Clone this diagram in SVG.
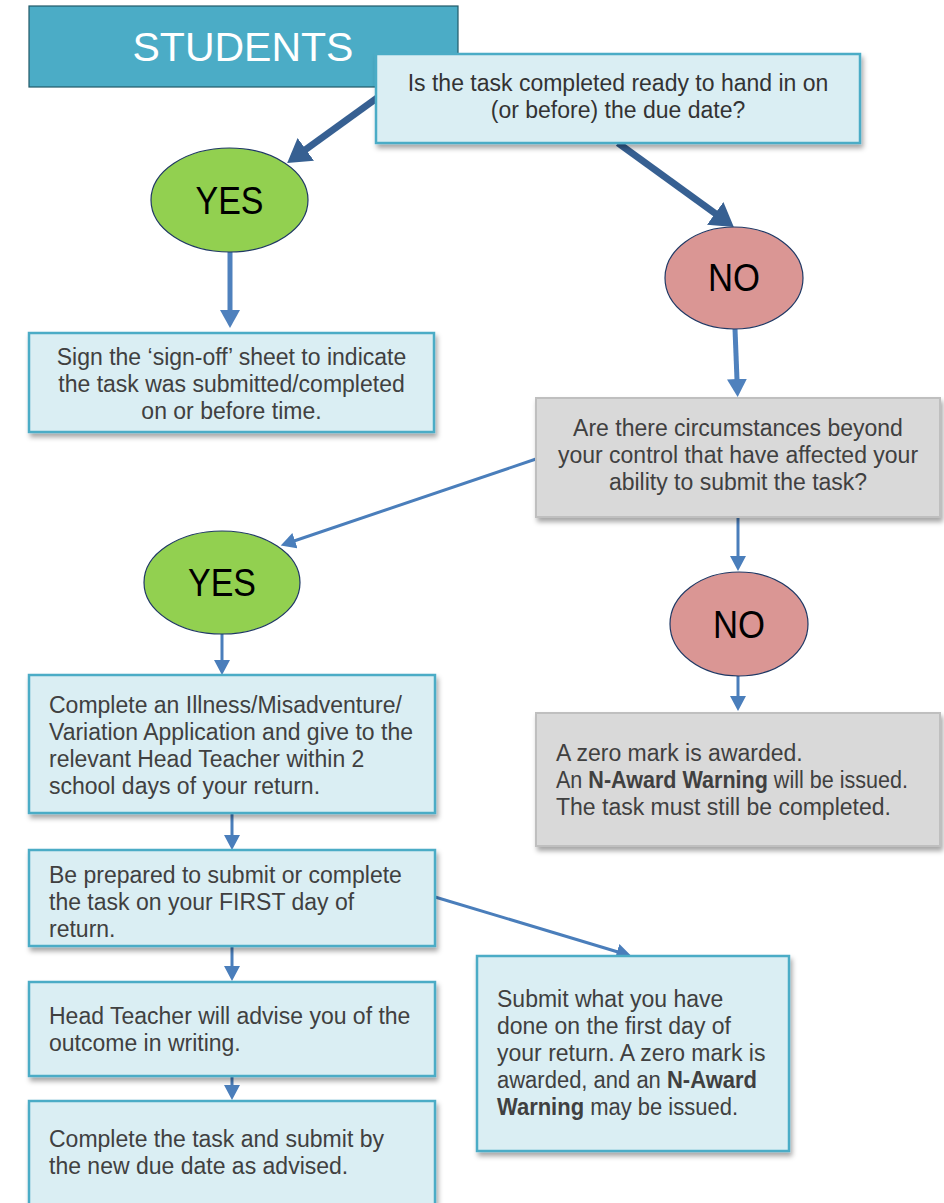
<svg xmlns="http://www.w3.org/2000/svg" width="944" height="1203" viewBox="0 0 944 1203">
<defs>
<style>
.bg{fill:#ffffff}
.box{fill:#DAEEF3;stroke:#4BACC6;stroke-width:2.5;filter:url(#sh)}
.grey{fill:#D9D9D9;stroke:#BFBFBF;stroke-width:2;filter:url(#sh)}
.title{fill:#4BACC6;stroke:#215968;stroke-width:1.2}
.yes{fill:#92D050;stroke:#1F3864;stroke-width:1.2}
.no{fill:#DA9694;stroke:#1F3864;stroke-width:1.2}
.t{font-family:"Liberation Sans",Arial,sans-serif;font-size:23px;fill:#404040}
.q{font-family:"Liberation Sans",Arial,sans-serif;font-size:23px;fill:#333333}
.c{text-anchor:middle}
.big{font-family:"Liberation Sans",Arial,sans-serif;font-size:39px;fill:#000000;text-anchor:middle}
.ttl{font-family:"Liberation Sans",Arial,sans-serif;font-size:41px;fill:#ffffff;text-anchor:middle}
.b{font-weight:bold}
.thick{stroke:#376092;stroke-width:7;fill:none}
.med{stroke:#4F81BD;stroke-width:5;fill:none}
.thin{stroke:#4A7EBB;stroke-width:3;fill:none}
</style>
<filter id="sh" x="-10%" y="-10%" width="120%" height="130%">
<feDropShadow dx="2" dy="4" stdDeviation="2.5" flood-color="#000000" flood-opacity="0.35"/>
</filter>
<marker id="hThick" markerUnits="userSpaceOnUse" markerWidth="24" markerHeight="28" refX="1" refY="14" orient="auto">
<path d="M0,0 L23,14 L0,28 z" fill="#376092"/>
</marker>
<marker id="hMed" markerUnits="userSpaceOnUse" markerWidth="18" markerHeight="20" refX="1" refY="10" orient="auto">
<path d="M0,0 L18,10 L0,20 z" fill="#4F81BD"/>
</marker>
<marker id="hThin" markerUnits="userSpaceOnUse" markerWidth="16" markerHeight="16" refX="1" refY="8" orient="auto">
<path d="M0,0 L15,8 L0,16 z" fill="#4A7EBB"/>
</marker>
</defs>
<rect class="bg" x="0" y="0" width="944" height="1203"/>

<g id="students">
<rect class="title" x="29" y="6" width="429" height="81"/>
<text class="ttl" x="243" y="61">STUDENTS</text>
</g>

<g id="connectors">
<line class="thick" x1="377" y1="98" x2="305" y2="150" marker-end="url(#hThick)"/>
<line class="thick" x1="618" y1="143" x2="716" y2="214" marker-end="url(#hThick)"/>
<line class="med" x1="230" y1="252" x2="230" y2="311" marker-end="url(#hMed)"/>
<line class="med" x1="735" y1="329" x2="737" y2="380" marker-end="url(#hMed)"/>
<line class="thin" x1="536" y1="459" x2="294" y2="541" marker-end="url(#hThin)"/>
<line class="thin" x1="738" y1="517" x2="738" y2="557" marker-end="url(#hThin)"/>
<line class="thin" x1="738" y1="676" x2="738" y2="697" marker-end="url(#hThin)"/>
<line class="thin" x1="222" y1="634" x2="222" y2="661" marker-end="url(#hThin)"/>
<line class="thin" x1="232" y1="813" x2="232" y2="836" marker-end="url(#hThin)"/>
<line class="thin" x1="435" y1="897" x2="618" y2="952" marker-end="url(#hThin)"/>
<line class="thin" x1="232" y1="946" x2="232" y2="967" marker-end="url(#hThin)"/>
<line class="thin" x1="232" y1="1076" x2="232" y2="1086" marker-end="url(#hThin)"/>
</g>

<g id="q1">
<rect class="box" x="376" y="54" width="484" height="89"/>
<text class="q c" x="618" y="91">Is the task completed ready to hand in on</text>
<text class="q c" x="618" y="118">(or before) the due date?</text>
</g>

<g id="yes1">
<ellipse class="yes" cx="229.5" cy="200" rx="78.5" ry="52"/>
<text class="big" x="229.5" y="214" textLength="68" lengthAdjust="spacingAndGlyphs">YES</text>
</g>

<g id="no1">
<ellipse class="no" cx="734" cy="278" rx="69" ry="51"/>
<text class="big" x="734" y="291" textLength="52" lengthAdjust="spacingAndGlyphs">NO</text>
</g>

<g id="signoff">
<rect class="box" x="29" y="333" width="405" height="99"/>
<text class="t c" x="231.5" y="365">Sign the ‘sign-off’ sheet to indicate</text>
<text class="t c" x="231.5" y="392">the task was submitted/completed</text>
<text class="t c" x="231.5" y="419">on or before time.</text>
</g>

<g id="q2">
<rect class="grey" x="536" y="398" width="404" height="119"/>
<text class="t c" x="738" y="436">Are there circumstances beyond</text>
<text class="t c" x="738" y="463">your control that have affected your</text>
<text class="t c" x="738" y="490">ability to submit the task?</text>
</g>

<g id="yes2">
<ellipse class="yes" cx="222" cy="582.5" rx="78" ry="51.5"/>
<text class="big" x="222" y="596" textLength="68" lengthAdjust="spacingAndGlyphs">YES</text>
</g>

<g id="no2">
<ellipse class="no" cx="739" cy="624" rx="69" ry="52"/>
<text class="big" x="739" y="638" textLength="52" lengthAdjust="spacingAndGlyphs">NO</text>
</g>

<g id="zero">
<rect class="grey" x="536" y="713" width="404" height="133"/>
<text class="t" x="556" y="761">A zero mark is awarded.</text>
<text class="t" x="556" y="788" textLength="352" lengthAdjust="spacingAndGlyphs">An <tspan class="b">N-Award Warning</tspan> will be issued.</text>
<text class="t" x="556" y="815">The task must still be completed.</text>
</g>

<g id="application">
<rect class="box" x="29" y="675" width="406" height="138"/>
<text class="t" x="49" y="713">Complete an Illness/Misadventure/</text>
<text class="t" x="49" y="740">Variation Application and give to the</text>
<text class="t" x="49" y="767">relevant Head Teacher within 2</text>
<text class="t" x="49" y="794">school days of your return.</text>
</g>

<g id="prepared">
<rect class="box" x="29" y="850" width="406" height="96"/>
<text class="t" x="49" y="883">Be prepared to submit or complete</text>
<text class="t" x="49" y="910">the task on your FIRST day of</text>
<text class="t" x="49" y="937">return.</text>
</g>

<g id="submit">
<rect class="box" x="477" y="956" width="312" height="195"/>
<text class="t" x="497" y="1007">Submit what you have</text>
<text class="t" x="497" y="1034">done on the first day of</text>
<text class="t" x="497" y="1061">your return. A zero mark is</text>
<text class="t" x="497" y="1088" textLength="260" lengthAdjust="spacingAndGlyphs">awarded, and an <tspan class="b">N-Award</tspan></text>
<text class="t" x="497" y="1115" textLength="241" lengthAdjust="spacingAndGlyphs"><tspan class="b">Warning</tspan> may be issued.</text>
</g>

<g id="headteacher">
<rect class="box" x="29" y="982" width="406" height="94"/>
<text class="t" x="49" y="1024">Head Teacher will advise you of the</text>
<text class="t" x="49" y="1051">outcome in writing.</text>
</g>

<g id="complete">
<rect class="box" x="29" y="1101" width="406" height="115"/>
<text class="t" x="49" y="1147">Complete the task and submit by</text>
<text class="t" x="49" y="1174">the new due date as advised.</text>
</g>
</svg>
